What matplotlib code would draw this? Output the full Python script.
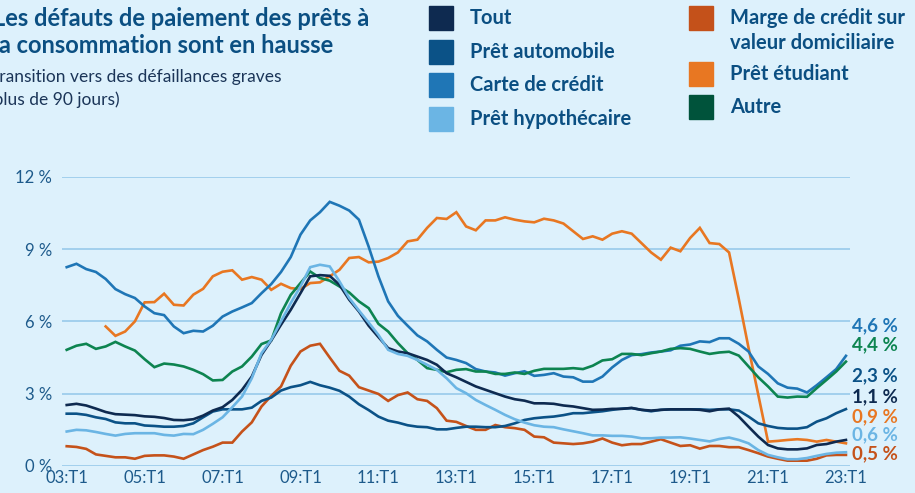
import numpy as np
import matplotlib
matplotlib.use('Agg')
import matplotlib.pyplot as plt
from matplotlib.patches import Rectangle

plt.rcParams['font.family'] = ['Lato', 'DejaVu Sans']

# Quarterly data, 2003:T1 .. 2023:T1 (81 quarters), % of balances
tout = [2.53, 2.58, 2.51, 2.38, 2.24, 2.15, 2.13, 2.11, 2.06, 2.04, 1.99, 1.91, 1.90, 1.94, 2.09, 2.30,
        2.44, 2.74, 3.16, 3.71, 4.61, 5.21, 5.86, 6.48, 7.17, 7.87, 7.92, 7.89, 7.52, 6.90, 6.41, 5.82,
        5.35, 4.89, 4.75, 4.68, 4.54, 4.40, 4.20, 3.85, 3.68, 3.49, 3.30, 3.16, 3.02, 2.88, 2.77, 2.71,
        2.60, 2.60, 2.58, 2.51, 2.47, 2.40, 2.33, 2.34, 2.37, 2.37, 2.41, 2.33, 2.30, 2.33, 2.35, 2.35,
        2.35, 2.33, 2.27, 2.35, 2.38, 2.05, 1.63, 1.22, 0.87, 0.73, 0.69, 0.69, 0.73, 0.87, 0.91, 1.01, 1.08]
auto = [2.17, 2.17, 2.12, 2.02, 1.95, 1.81, 1.77, 1.77, 1.68, 1.66, 1.63, 1.63, 1.66, 1.77, 2.02, 2.26,
        2.35, 2.35, 2.35, 2.42, 2.70, 2.84, 3.13, 3.27, 3.35, 3.49, 3.35, 3.25, 3.12, 2.88, 2.56, 2.32,
        2.05, 1.88, 1.80, 1.69, 1.63, 1.61, 1.52, 1.52, 1.58, 1.63, 1.63, 1.61, 1.61, 1.66, 1.77, 1.91,
        1.98, 2.02, 2.05, 2.11, 2.19, 2.19, 2.23, 2.27, 2.33, 2.38, 2.40, 2.33, 2.27, 2.33, 2.35, 2.35,
        2.35, 2.35, 2.33, 2.35, 2.35, 2.30, 2.05, 1.77, 1.66, 1.58, 1.55, 1.55, 1.61, 1.84, 1.98, 2.19, 2.36]
carte = [8.25, 8.39, 8.17, 8.05, 7.76, 7.34, 7.13, 6.97, 6.62, 6.34, 6.26, 5.79, 5.51, 5.61, 5.58, 5.82,
         6.20, 6.41, 6.58, 6.76, 7.17, 7.55, 8.05, 8.67, 9.60, 10.19, 10.53, 10.96, 10.80, 10.60, 10.22, 9.10,
         7.87, 6.83, 6.23, 5.82, 5.42, 5.17, 4.82, 4.50, 4.40, 4.27, 4.02, 3.92, 3.88, 3.75, 3.85, 3.93,
         3.74, 3.78, 3.85, 3.71, 3.68, 3.50, 3.50, 3.71, 4.09, 4.40, 4.60, 4.64, 4.71, 4.75, 4.80, 4.99,
         5.04, 5.17, 5.14, 5.30, 5.30, 5.07, 4.75, 4.13, 3.82, 3.43, 3.25, 3.21, 3.05, 3.35, 3.68, 4.02, 4.57]
hypo = [1.43, 1.50, 1.48, 1.41, 1.33, 1.26, 1.33, 1.36, 1.36, 1.36, 1.29, 1.26, 1.33, 1.32, 1.50, 1.75,
        2.02, 2.44, 2.88, 3.64, 4.68, 5.24, 6.00, 6.76, 7.45, 8.25, 8.35, 8.28, 7.66, 6.97, 6.45, 5.95,
        5.44, 4.82, 4.65, 4.57, 4.40, 4.20, 3.99, 3.64, 3.23, 3.02, 2.74, 2.53, 2.33, 2.12, 1.94, 1.80,
        1.69, 1.63, 1.61, 1.52, 1.44, 1.36, 1.27, 1.27, 1.25, 1.25, 1.22, 1.15, 1.15, 1.18, 1.18, 1.19,
        1.14, 1.08, 1.02, 1.12, 1.18, 1.08, 0.94, 0.66, 0.46, 0.36, 0.28, 0.28, 0.33, 0.42, 0.50, 0.55, 0.57]
marge = [0.82, 0.79, 0.71, 0.48, 0.42, 0.36, 0.36, 0.30, 0.42, 0.44, 0.44, 0.39, 0.30, 0.48, 0.66, 0.80,
         0.97, 0.97, 1.43, 1.81, 2.47, 2.91, 3.30, 4.16, 4.75, 4.99, 5.07, 4.50, 3.95, 3.75, 3.27, 3.13,
         2.99, 2.70, 2.94, 3.05, 2.77, 2.70, 2.40, 1.88, 1.83, 1.66, 1.50, 1.50, 1.70, 1.61, 1.57, 1.50,
         1.22, 1.19, 0.97, 0.94, 0.91, 0.94, 1.01, 1.14, 0.97, 0.86, 0.91, 0.91, 1.01, 1.11, 0.97, 0.83,
         0.86, 0.72, 0.83, 0.83, 0.78, 0.78, 0.66, 0.53, 0.39, 0.30, 0.22, 0.22, 0.22, 0.30, 0.44, 0.46, 0.46]
etudiant = [np.nan, np.nan, np.nan, np.nan, 5.79, 5.40, 5.58, 6.00, 6.79, 6.80, 7.15, 6.69, 6.66, 7.11, 7.35, 7.87,
            8.06, 8.12, 7.73, 7.84, 7.73, 7.31, 7.56, 7.38, 7.34, 7.59, 7.62, 7.87, 8.14, 8.63, 8.67, 8.45,
            8.48, 8.63, 8.86, 9.32, 9.39, 9.88, 10.29, 10.25, 10.53, 9.94, 9.78, 10.19, 10.19, 10.32, 10.22, 10.15,
            10.11, 10.26, 10.19, 10.06, 9.74, 9.42, 9.53, 9.39, 9.64, 9.74, 9.64, 9.25, 8.86, 8.56, 9.06, 8.91,
            9.46, 9.88, 9.25, 9.21, 8.86, 6.93, 4.90, 2.95, 1.01, 1.04, 1.08, 1.11, 1.08, 1.01, 1.08, 1.01, 0.94]
autre = [4.82, 4.99, 5.07, 4.86, 4.96, 5.15, 4.96, 4.79, 4.43, 4.10, 4.25, 4.21, 4.13, 3.99, 3.81, 3.55,
         3.57, 3.92, 4.13, 4.54, 5.06, 5.21, 6.34, 7.10, 7.59, 8.07, 7.80, 7.69, 7.45, 7.20, 6.83, 6.55,
         5.90, 5.58, 5.10, 4.68, 4.40, 4.06, 3.99, 3.89, 3.99, 4.02, 3.92, 3.92, 3.82, 3.82, 3.88, 3.82,
         3.95, 4.03, 4.03, 4.03, 4.06, 4.02, 4.16, 4.38, 4.43, 4.65, 4.65, 4.60, 4.68, 4.75, 4.86, 4.89,
         4.86, 4.75, 4.65, 4.71, 4.74, 4.58, 4.13, 3.68, 3.30, 2.88, 2.84, 2.88, 2.87, 3.23, 3.57, 3.92, 4.33]

tick_labels = ['03:T1', '05:T1', '07:T1', '09:T1', '11:T1', '13:T1',
               '15:T1', '17:T1', '19:T1', '21:T1', '23:T1']
end_labels = ['4,6 %', '4,4 %', '2,3 %', '1,1 %', '0,9 %', '0,6 %', '0,5 %']

c_tout = '#0e2a50'
c_auto = '#0b5287'
c_carte = '#1f76b6'
c_hypo = '#6bb5e4'
c_marge = '#c5521a'
c_etud = '#e87722'
c_autre = '#0d8450'
bg = '#ddf1fc'
grid_c = '#9dcdec'
text_c = '#0b4f82'
W, H = 915, 493

fig = plt.figure(figsize=(9.15, 4.93), dpi=100, facecolor=bg)
ax = fig.add_axes([0.0678, 0.0548, 0.861, 0.5866], facecolor=bg)

x = np.arange(len(tout))
for y, c in [(marge, c_marge), (etudiant, c_etud), (auto, c_auto), (carte, c_carte),
             (autre, c_autre), (tout, c_tout), (hypo, c_hypo)]:
    ax.plot(x, y, color=c, lw=1.9, solid_joinstyle='miter', clip_on=False)

ax.set_xlim(-0.48, 80.4)
ax.set_ylim(0, 12)
ax.set_yticks([0, 3, 6, 9, 12])
ax.set_yticklabels(['0 %', '3 %', '6 %', '9 %', '12 %'])
ax.set_xticks(np.arange(0, 81, 8))
ax.set_xticklabels(tick_labels)
ax.tick_params(length=0, labelsize=12, labelcolor='#1d5a8b', pad=3)
ax.tick_params(axis='y', pad=7, labelsize=12)
ax.grid(axis='y', color=grid_c, lw=1.3)
ax.set_axisbelow(True)
for s in ax.spines.values():
    s.set_visible(False)

# end-of-series labels (y positions in data units, spread so they don't overlap)
end_colors = [c_carte, c_autre, c_auto, c_tout, c_etud, c_hypo, c_marge]
end_y = [5.80, 5.02, 3.74, 2.87, 2.04, 1.29, 0.52]
for lab, c, yy in zip(end_labels, end_colors, end_y):
    ax.text(1.003, yy, lab, transform=ax.get_yaxis_transform(), color=c,
            fontsize=13.5, fontweight='bold', va='center', ha='left')

# title and subtitle (cut off at the left edge, as in the source)
title_lines = ['Les défauts de paiement des prêts à', 'la consommation sont en hausse']
for k, line in enumerate(title_lines):
    fig.text(-7 / W, 1 - (26 + 27 * k) / H, line, fontsize=17, fontweight='bold',
             color=text_c, va='baseline', ha='left')
sub_lines = ['Transition vers des défaillances graves', '(plus de 90 jours)']
for k, line in enumerate(sub_lines):
    fig.text(-11 / W, 1 - (82 + 23 * k) / H, line, fontsize=12.5, color='#1b3558',
             va='baseline', ha='left')

# legend
leg1 = [('Tout', c_tout), ('Prêt automobile', c_auto), ('Carte de crédit', c_carte),
        ('Prêt hypothécaire', c_hypo)]
leg2 = [('Marge de crédit sur', '#c4511a'), ('Prêt étudiant', c_etud), ('Autre', '#00533b')]


def legend_item(px, py, label, color):
    fig.patches.append(Rectangle((px / W, 1 - (py + 12) / H), 24 / W, 24 / H,
                                 transform=fig.transFigure, color=color, figure=fig))
    fig.text((px + 41) / W, 1 - py / H, label, fontsize=14.5, fontweight='bold', color=text_c,
             va='center', ha='left')


for i, (lab, c) in enumerate(leg1):
    legend_item(429, 18 + i * 33.7, lab, c)
legend_item(689, 18, leg2[0][0], leg2[0][1])
fig.text((689 + 41) / W, 1 - 43 / H, 'valeur domiciliaire', fontsize=14.5, fontweight='bold',
         color=text_c, va='center', ha='left')
legend_item(689, 74, leg2[1][0], leg2[1][1])
legend_item(689, 107, leg2[2][0], leg2[2][1])

fig.savefig('out.png', dpi=100, facecolor=bg)
